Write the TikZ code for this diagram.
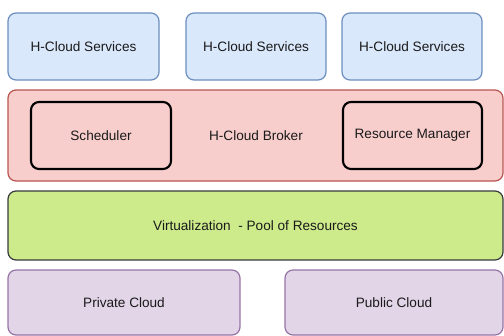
\documentclass[tikz,border=0pt]{standalone}
\usepackage{fontspec}
\setmainfont{Liberation Sans}
\definecolor{bluefill}{HTML}{DAE8FC}
\definecolor{bluedraw}{HTML}{6C8EBF}
\definecolor{redfill}{HTML}{F8CECC}
\definecolor{reddraw}{HTML}{B85450}
\definecolor{greenfill}{HTML}{CDEB8B}
\definecolor{greendraw}{HTML}{36393D}
\definecolor{purplefill}{HTML}{E1D5E7}
\definecolor{purpledraw}{HTML}{9673A6}
\definecolor{txt}{HTML}{1A1A1A}
\begin{document}
\begin{tikzpicture}[x=0.75pt,y=-0.75pt,
  lbl/.style={font=\fontsize{10.2}{12}\selectfont, text=txt},
  boxbase/.style={rounded corners=6pt, line width=0.9pt},
  svc/.style={boxbase, fill=bluefill, draw=bluedraw},
  broker/.style={boxbase, fill=redfill, draw=reddraw},
  inner/.style={rounded corners=6pt, line width=1.6pt, fill=redfill, draw=black},
  virt/.style={boxbase, fill=greenfill, draw=greendraw},
  cloud/.style={boxbase, fill=purplefill, draw=purpledraw}]
\useasboundingbox (0,0) rectangle (504,336);
% services
\draw[svc] (8,13) rectangle (159,80);
\node[lbl] (s1) at (83.5,46.5) {H-Cloud Services};
\draw[svc] (186,13) rectangle (326,80);
\node[lbl] (s2) at (256,46.5) {H-Cloud Services};
\draw[svc] (342,13) rectangle (482,80);
\node[lbl] (s3) at (412,46.5) {H-Cloud Services};
% broker
\draw[broker] (8,90) rectangle (503,181);
\node[lbl] (broker) at (256,136) {H-Cloud Broker};
\draw[inner] (31,102) rectangle (171,169);
\node[lbl] (sched) at (101,135.5) {Scheduler};
\draw[inner] (343,102) rectangle (482,169);
\node[lbl] (rm) at (412.5,135.5) {Resource Manager};
% virtualization
\draw[virt] (8,191) rectangle (503,260);
\node[lbl] (virt) at (255.5,225.5) {Virtualization\ \ - Pool of Resources};
% clouds
\draw[cloud] (8,270) rectangle (240,335);
\node[lbl] (priv) at (124,303) {Private Cloud};
\draw[cloud] (285,270) rectangle (503,335);
\node[lbl] (pub) at (394,303) {Public Cloud};
\end{tikzpicture}
\end{document}
